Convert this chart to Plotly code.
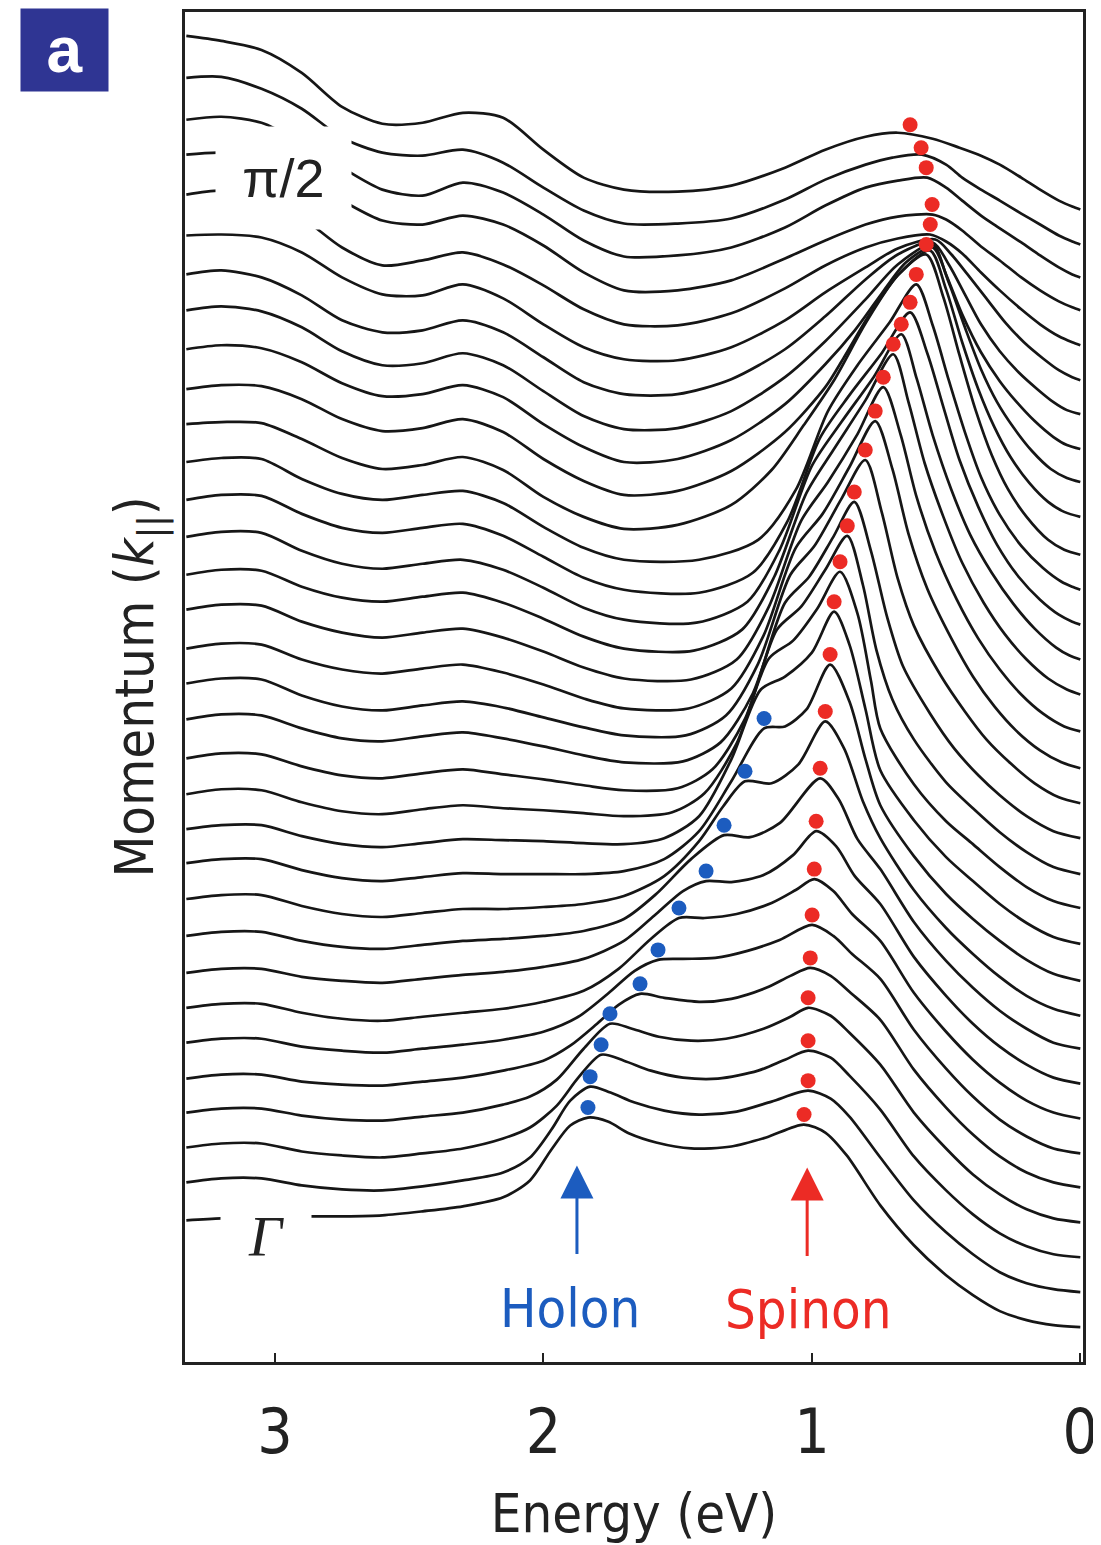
import plotly.graph_objects as go

# ---------------- data ----------------
# common left-hand energies (eV) of every EDC
ENERGY_LEFT = [3.33, 3.2, 3.05, 2.9, 2.75, 2.6, 2.45, 2.3]

# intensity of each EDC (bottom = Gamma, top = pi/2) at ENERGY_LEFT
EDC_LEFT = [
    [107, 109, 110, 111, 111, 112, 116, 121],
    [110, 114, 114, 107, 103, 102, 106, 112],
    [110, 114, 114, 106, 102, 100, 104, 109],
    [110, 114, 114, 107, 103, 102, 106, 110],
    [109, 113, 113, 106, 103, 102, 106, 110],
    [111, 115, 115, 107, 103, 101, 105, 109],
    [111, 115, 115, 106, 100, 98, 102, 106],
    [111, 115, 115, 107, 103, 101, 105, 109],
    [113, 117, 117, 108, 102, 100, 104, 108],
    [117, 121, 121, 110, 102, 99, 103, 107],
    [118, 122, 122, 111, 103, 100, 104, 108],
    [115, 119, 119, 108, 100, 97, 101, 105],
    [114, 119, 118, 106, 97, 94, 99, 103],
    [116, 121, 120, 108, 99, 96, 101, 105],
    [119, 124, 123, 110, 100, 97, 102, 106],
    [120, 125, 124, 108, 97, 93, 98, 102],
    [120, 125, 124, 109, 99, 95, 100, 104],
    [122, 127, 126, 110, 99, 94, 99, 103],
    [120, 125, 124, 108, 97, 93, 98, 102],
    [123, 128, 127, 109, 96, 91, 96, 100],
    [125, 130, 129, 111, 97, 92, 97, 101],
    [128, 132, 131, 111, 96, 90, 95, 99],
    [131, 133, 132, 116, 97, 86, 90, 98],
    [128, 132, 131, 118, 98, 86, 89, 98],
    [133, 137, 134, 120, 99, 86, 88, 97],
    [139, 143, 138, 122, 98, 84, 86, 96],
    [140, 144, 137, 119, 94, 82, 84, 94],
    [145, 146, 143, 128, 103, 86, 85, 96],
    [151, 155, 148, 128, 98, 80, 85, 93],
    [156, 158, 152, 133, 110, 90, 86, 95],
    [158, 161, 155, 135, 110, 88, 82, 95],
    [167, 168, 156, 136, 107, 92, 89, 95],
    [174, 169, 160, 137, 103, 86, 87, 97],
]

# (energy, intensity) of each EDC from 2.15 eV up to the Fermi level
EDC_RIGHT = [
    [(2.15,130),(2.05,147),(1.97,178),(1.9,202),(1.834,210),(1.76,206),(1.68,194),(1.58,185),(1.45,179),(1.3,181),(1.17,190),(1.03,203),(0.95,195),(0.87,172),(0.745,122),(0.62,82),(0.5,52),(0.4,32),(0.3,16),(0.2,7),(0.1,2),(0,0)],
    [(2.15,120),(2.05,135),(1.97,163),(1.9,192),(1.826,206),(1.75,200),(1.66,190),(1.55,182),(1.42,178),(1.28,181),(1.15,191),(1.014,202),(0.93,194),(0.86,176),(0.745,135),(0.62,92),(0.5,60),(0.4,38),(0.3,20),(0.2,9),(0.1,3),(0,0)],
    [(2.15,119),(2.05,130),(1.95,152),(1.87,180),(1.785,203),(1.7,197),(1.6,187),(1.48,180),(1.35,179),(1.2,187),(1.1,198),(1.014,207),(0.93,200),(0.86,182),(0.745,148),(0.62,101),(0.5,67),(0.4,43),(0.3,24),(0.2,11),(0.1,3),(0,0)],
    [(2.15,118),(2.05,126),(1.95,143),(1.85,174),(1.752,199),(1.67,194),(1.57,186),(1.45,182),(1.32,184),(1.18,194),(1.08,206),(1.014,215),(0.93,207),(0.86,190),(0.745,158),(0.62,110),(0.5,74),(0.4,48),(0.3,28),(0.2,13),(0.1,4),(0,0)],
    [(2.15,117),(2.0,127),(1.9,142),(1.8,164),(1.72,183),(1.64,194),(1.55,190),(1.42,186),(1.3,189),(1.17,200),(1.08,212),(1.006,220),(0.93,212),(0.86,196),(0.745,168),(0.62,118),(0.5,80),(0.4,53),(0.3,31),(0.2,15),(0.1,5),(0,0)],
    [(2.15,114),(2.0,122),(1.87,137),(1.76,160),(1.66,183),(1.573,194),(1.48,195),(1.36,196),(1.24,203),(1.12,214),(0.999,229),(0.92,218),(0.85,200),(0.745,175),(0.62,124),(0.5,85),(0.4,57),(0.3,34),(0.2,17),(0.1,5),(0,0)],
    [(2.15,110),(2.0,117),(1.85,128),(1.72,150),(1.6,180),(1.495,201),(1.4,201),(1.28,205),(1.15,216),(1.06,229),(0.991,240),(0.92,228),(0.85,205),(0.745,178),(0.62,126),(0.5,87),(0.4,59),(0.3,36),(0.2,18),(0.1,6),(0,0)],
    [(2.15,112),(2.0,117),(1.85,125),(1.7,143),(1.58,170),(1.48,193),(1.394,203),(1.3,202),(1.18,209),(1.07,229),(0.984,253),(0.91,238),(0.84,208),(0.745,180),(0.62,127),(0.5,88),(0.4,60),(0.3,37),(0.2,19),(0.1,6),(0,0)],
    [(2.15,110),(2.0,113),(1.85,118),(1.7,130),(1.58,155),(1.45,190),(1.327,214),(1.23,212),(1.12,226),(0.969,271),(0.9,250),(0.83,210),(0.745,180),(0.62,127),(0.5,88),(0.4,61),(0.3,38),(0.2,20),(0.1,6),(0,0)],
    [(2.15,107),(2.0,109),(1.85,112),(1.7,120),(1.55,140),(1.42,175),(1.33,210),(1.249,235),(1.15,233),(1.05,252),(0.95,295),(0.88,268),(0.81,215),(0.745,178),(0.62,126),(0.5,88),(0.4,62),(0.3,39),(0.2,20),(0.1,7),(0,0)],
    [(2.15,107),(2.0,107),(1.85,107),(1.7,110),(1.55,122),(1.42,150),(1.3,200),(1.178,253),(1.1,255),(1.02,272),(0.932,317),(0.86,280),(0.8,222),(0.745,176),(0.62,125),(0.5,87),(0.4,62),(0.3,40),(0.2,21),(0.1,7),(0,0)],
    [(2.15,104),(2.0,103),(1.85,101),(1.7,100),(1.55,106),(1.42,128),(1.3,185),(1.19,255),(1.1,268),(1.0,292),(0.917,333),(0.86,300),(0.8,235),(0.745,174),(0.62,124),(0.5,87),(0.4,63),(0.3,40),(0.2,21),(0.1,7),(0,0)],
    [(2.15,100),(2.0,98),(1.85,95),(1.7,92),(1.52,96),(1.4,115),(1.28,165),(1.16,250),(1.07,268),(0.98,300),(0.895,337),(0.83,295),(0.78,228),(0.745,180),(0.62,124),(0.5,87),(0.4,64),(0.3,41),(0.2,21),(0.1,7),(0,0)],
    [(2.15,100),(2.0,95),(1.85,89),(1.7,84),(1.5,86),(1.37,105),(1.25,155),(1.13,245),(1.04,268),(0.95,305),(0.868,339),(0.81,290),(0.76,225),(0.7,175),(0.62,135),(0.5,92),(0.4,66),(0.3,42),(0.2,22),(0.1,7),(0,0)],
    [(2.15,100),(2.0,92),(1.85,83),(1.7,76),(1.48,77),(1.34,96),(1.22,145),(1.1,236),(1.01,262),(0.92,302),(0.842,337),(0.78,288),(0.72,222),(0.66,172),(0.56,125),(0.47,90),(0.38,63),(0.3,43),(0.2,22),(0.1,7),(0,0)],
    [(2.15,96),(2.0,86),(1.85,76),(1.7,68),(1.47,68),(1.32,88),(1.2,140),(1.08,229),(0.99,258),(0.89,305),(0.801,344),(0.74,292),(0.68,225),(0.62,178),(0.52,128),(0.43,92),(0.35,64),(0.26,40),(0.17,20),(0.08,6),(0,0)],
    [(2.15,96),(2.0,84),(1.85,70),(1.7,60),(1.46,60),(1.3,80),(1.18,133),(1.06,221),(0.96,255),(0.86,302),(0.764,348),(0.7,300),(0.64,235),(0.57,180),(0.48,130),(0.4,92),(0.32,62),(0.24,38),(0.15,18),(0.07,6),(0,0)],
    [(2.15,94),(2.0,80),(1.85,64),(1.7,53),(1.45,52),(1.28,72),(1.16,125),(1.04,211),(0.94,250),(0.83,298),(0.734,345),(0.67,298),(0.61,235),(0.54,180),(0.46,132),(0.38,93),(0.3,62),(0.22,37),(0.14,18),(0.06,5),(0,0)],
    [(2.15,92),(2.0,76),(1.85,58),(1.7,46),(1.44,44),(1.26,65),(1.14,118),(1.02,202),(0.92,245),(0.8,295),(0.697,341),(0.64,293),(0.58,232),(0.51,178),(0.44,132),(0.36,92),(0.28,60),(0.2,35),(0.12,16),(0.05,5),(0,0)],
    [(2.15,90),(2.0,72),(1.85,52),(1.7,40),(1.43,37),(1.24,58),(1.12,110),(1.0,194),(0.89,238),(0.77,283),(0.667,326),(0.61,282),(0.55,225),(0.48,170),(0.41,125),(0.33,87),(0.25,56),(0.17,31),(0.09,12),(0.04,4),(0,0)],
    [(2.15,89),(2.0,68),(1.85,47),(1.7,35),(1.42,32),(1.22,52),(1.09,104),(0.97,187),(0.86,230),(0.74,272),(0.634,313),(0.57,272),(0.51,218),(0.45,165),(0.38,118),(0.31,80),(0.23,48),(0.15,25),(0.08,10),(0.03,3),(0,0)],
    [(2.15,87),(2.0,63),(1.85,42),(1.7,30),(1.42,30),(1.2,50),(1.06,100),(0.94,179),(0.83,225),(0.71,268),(0.611,306),(0.55,265),(0.49,210),(0.43,158),(0.37,113),(0.3,75),(0.22,44),(0.14,22),(0.07,8),(0.03,3),(0,0)],
    [(2.15,85),(2.0,58),(1.85,38),(1.7,26),(1.5,30),(1.3,50),(1.15,85),(1.03,130),(0.915,176),(0.8,232),(0.68,280),(0.574,301),(0.51,258),(0.45,200),(0.39,145),(0.33,100),(0.27,66),(0.2,38),(0.12,15),(0.06,5),(0,0)],
    [(2.15,85),(2.0,58),(1.85,36),(1.7,22),(1.5,26),(1.3,46),(1.1,85),(0.95,130),(0.88,160),(0.78,205),(0.67,245),(0.56,267),(0.5,228),(0.44,175),(0.38,128),(0.32,90),(0.26,60),(0.19,34),(0.12,15),(0.06,5),(0,0)],
    [(2.15,85),(2.0,58),(1.85,35),(1.7,20),(1.5,23),(1.3,42),(1.1,78),(0.95,118),(0.84,152),(0.75,185),(0.65,220),(0.55,235),(0.49,200),(0.43,155),(0.37,113),(0.31,80),(0.25,55),(0.18,31),(0.11,13),(0.05,4),(0,0)],
    [(2.15,84),(2.0,58),(1.85,33),(1.7,20),(1.5,21),(1.3,38),(1.1,72),(0.95,108),(0.8,150),(0.68,185),(0.55,205),(0.5,175),(0.44,135),(0.37,97),(0.3,68),(0.24,48),(0.17,28),(0.1,12),(0.05,4),(0,0)],
    [(2.15,82),(2.0,57),(1.85,32),(1.7,20),(1.5,20),(1.3,35),(1.1,65),(0.95,98),(0.8,135),(0.68,160),(0.55,172),(0.49,150),(0.43,120),(0.37,90),(0.3,63),(0.23,42),(0.16,25),(0.1,12),(0.05,4),(0,0)],
    [(2.15,82),(2.0,56),(1.85,33),(1.7,21),(1.5,20),(1.3,33),(1.1,60),(0.95,88),(0.8,113),(0.68,132),(0.54,141),(0.48,126),(0.42,106),(0.35,82),(0.28,58),(0.21,38),(0.14,22),(0.08,10),(0.03,3),(0,0)],
    [(2.15,81),(2.0,60),(1.85,36),(1.7,21),(1.5,20),(1.3,32),(1.1,57),(0.95,80),(0.8,98),(0.68,107),(0.56,111),(0.5,104),(0.44,92),(0.37,73),(0.3,55),(0.22,36),(0.15,21),(0.08,9),(0.03,3),(0,0)],
    [(2.15,86),(2.0,65),(1.85,38),(1.7,20),(1.5,20),(1.3,30),(1.1,52),(0.95,70),(0.8,86),(0.68,94),(0.55,96),(0.5,91),(0.44,80),(0.37,64),(0.3,50),(0.22,33),(0.15,20),(0.08,9),(0.03,3),(0,0)],
    [(2.15,85),(2.0,63),(1.85,37),(1.7,21),(1.5,22),(1.3,30),(1.1,50),(0.95,72),(0.8,90),(0.68,97),(0.57,100),(0.5,90),(0.44,77),(0.37,62),(0.31,51),(0.22,35),(0.15,22),(0.08,10),(0.03,3),(0,0)],
    [(2.15,82),(2.0,57),(1.85,34),(1.7,21),(1.5,21),(1.3,26),(1.1,45),(0.95,65),(0.8,80),(0.7,87),(0.59,90),(0.5,80),(0.44,67),(0.37,55),(0.3,44),(0.22,31),(0.15,20),(0.08,9),(0.03,3),(0,0)],
    [(2.15,92),(2.0,60),(1.85,32),(1.7,20),(1.5,18),(1.3,24),(1.1,42),(0.95,60),(0.8,73),(0.68,77),(0.55,71),(0.45,62),(0.37,54),(0.3,45),(0.22,32),(0.15,20),(0.08,9),(0.03,3),(0,0)],
]

# vertical stacking offset of each EDC (momentum from Gamma to pi/2)
EDC_OFFSET = [35, 70, 105, 140, 175, 209, 244, 279, 314, 347, 382, 419, 455, 489, 525,
              560, 595, 632, 669, 704, 739, 774, 809, 847, 882, 915, 950, 984, 1019,
              1054, 1087, 1120, 1155]

# peak markers
SPINON_E = [1.029, 1.014, 1.014, 1.014, 1.006, 0.999, 0.991, 0.984, 0.969, 0.950, 0.932,
            0.917, 0.895, 0.868, 0.842, 0.801, 0.764, 0.734, 0.697, 0.667, 0.634, 0.611,
            0.574, 0.559, 0.552, 0.574, 0.593, 0.634]
SPINON_Y = [248, 282, 322, 365, 405, 448, 494, 542, 595, 652, 709, 762, 802, 838, 872,
            914, 953, 987, 1020, 1040, 1062, 1090, 1120, 1140, 1160, 1197, 1217, 1240]
HOLON_E = [1.834, 1.826, 1.785, 1.752, 1.640, 1.573, 1.495, 1.394, 1.327, 1.249, 1.178]
HOLON_Y = [255, 286, 318, 349, 379, 413, 455, 492, 538, 592, 645]

TICK_VALUES = [3, 2, 1, 0]
TICK_LABELS = ["3", "2", "1", "0"]

# ---------------- figure ----------------
SANS = "Liberation Sans Narrow, DejaVu Sans Condensed, Liberation Sans, Arial, sans-serif"
LINE_COLOR = "#161616"
RED = "#ec2b25"
BLUE = "#1c5cbf"

fig = go.Figure()

for left_vals, right_pts, off in zip(EDC_LEFT, EDC_RIGHT, EDC_OFFSET):
    xs = ENERGY_LEFT + [p[0] for p in right_pts]
    ys = [off + v for v in left_vals] + [off + p[1] for p in right_pts]
    fig.add_trace(go.Scatter(
        x=xs, y=ys, mode="lines",
        line=dict(color=LINE_COLOR, width=2.7, shape="spline", smoothing=0.8),
        hoverinfo="skip", showlegend=False,
    ))

fig.add_trace(go.Scatter(
    x=HOLON_E, y=HOLON_Y, mode="markers",
    marker=dict(color=BLUE, size=15, line=dict(width=0)),
    showlegend=False, name="Holon",
))
fig.add_trace(go.Scatter(
    x=SPINON_E, y=SPINON_Y, mode="markers",
    marker=dict(color=RED, size=15, line=dict(width=0)),
    showlegend=False, name="Spinon",
))

# the page body adds an 8 px margin, so the figure is 8 px smaller
BODY = 8
W, H = 1101 - BODY, 1545 - BODY
ML, MR, MT, MB = 185 - BODY, 18, 9 - BODY, 183
PW, PH = W - ML - MR, H - MT - MB


def px(xpage):
    return (xpage - BODY - ML) / PW


def py(ypage):
    return (H - MB - (ypage - BODY)) / PH


annotations = [
    # panel label
    dict(text="<b>a</b>", x=px(64.5), y=py(47), xref="paper", yref="paper",
         showarrow=False, bgcolor="#2f3593", width=85, height=80,
         font=dict(family="Liberation Sans, Arial, sans-serif", size=64, color="white"),
         xanchor="center", yanchor="middle"),
    # pi/2 label with white box
    dict(text="π/2", x=px(283.5), y=py(175), xref="paper", yref="paper",
         showarrow=False, bgcolor="white", width=133, height=100,
         font=dict(family="Liberation Sans, Arial, sans-serif", size=54, color="#222"),
         xanchor="center", yanchor="middle"),
    # Gamma label with white box
    dict(text="<i>Γ</i>", x=px(266), y=py(1236), xref="paper", yref="paper",
         showarrow=False, bgcolor="white", width=88, height=78,
         font=dict(family="Liberation Serif, DejaVu Serif, serif", size=58, color="#222"),
         xanchor="center", yanchor="middle"),
    # arrows
    dict(x=1.875, y=197, xref="x", yref="y", ax=0, ay=97, text=" ",
         showarrow=True, arrowhead=2, arrowsize=2.2, arrowwidth=3, arrowcolor=BLUE),
    dict(x=1.0175, y=195, xref="x", yref="y", ax=0, ay=97, text=" ",
         showarrow=True, arrowhead=2, arrowsize=2.2, arrowwidth=3, arrowcolor=RED),
    # labels
    dict(text="Holon", x=px(570), y=py(1308), xref="paper", yref="paper",
         showarrow=False, font=dict(family=SANS, size=54, color=BLUE),
         xanchor="center", yanchor="middle"),
    dict(text="Spinon", x=px(808), y=py(1309), xref="paper", yref="paper",
         showarrow=False, font=dict(family=SANS, size=54, color=RED),
         xanchor="center", yanchor="middle"),
]

fig.update_layout(
    width=W, height=H,
    margin=dict(l=ML, r=MR, t=MT, b=MB),
    paper_bgcolor="white", plot_bgcolor="white",
    showlegend=False,
    annotations=annotations,
    font=dict(family=SANS, color="#222"),
)

fig.update_xaxes(
    range=[3.335, -0.01], tickmode="array", tickvals=TICK_VALUES, ticktext=TICK_LABELS,
    ticks="inside", ticklen=9, tickwidth=2, tickcolor="#222",
    showline=True, mirror=True, linecolor="#222", linewidth=2.5,
    showgrid=False, zeroline=False,
    tickfont=dict(family=SANS, size=62, color="#222"),
    ticklabelstandoff=14,
    title=dict(text="Energy (eV)", font=dict(family=SANS, size=54, color="#222"), standoff=30),
)
fig.update_yaxes(
    range=[0, PH], showticklabels=False, ticks="",
    showline=True, mirror=True, linecolor="#222", linewidth=2.5,
    showgrid=False, zeroline=False,
    title=dict(text="Momentum (<i>k</i><sub>||</sub>)",
               font=dict(family=SANS, size=54, color="#222"), standoff=12),
)

fig.write_html("out.html")
